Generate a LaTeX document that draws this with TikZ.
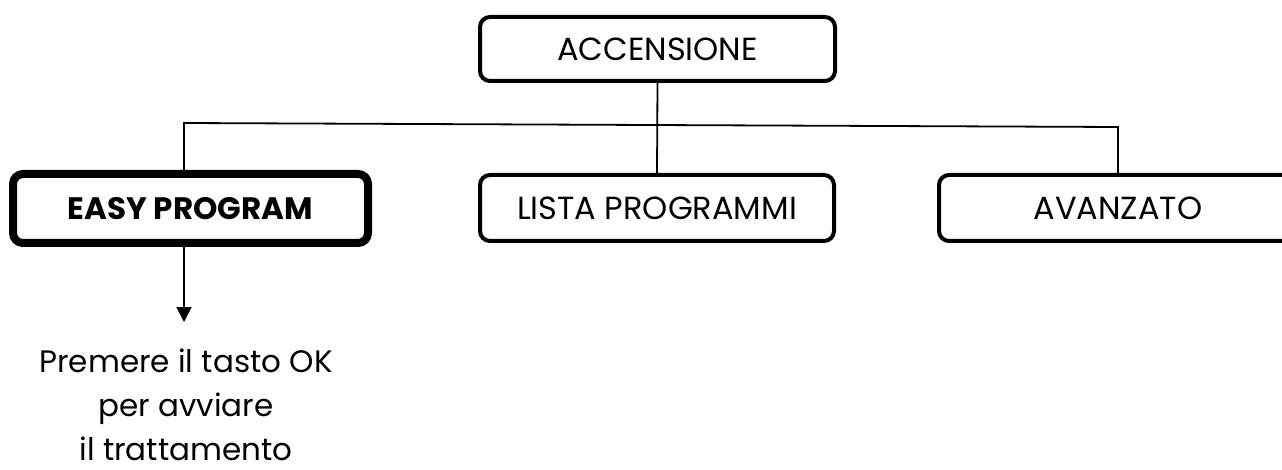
\documentclass[tikz,border=0pt]{standalone}
\usepackage{fontspec}
\setmainfont{Poppins}
\usetikzlibrary{arrows.meta}
\begin{document}
\begin{tikzpicture}[x=1pt,y=-1pt,
  box/.style={draw=black,line width=4pt,rounded corners=10pt,inner sep=0pt,
    minimum width=355pt,minimum height=66pt,font=\fontsize{32}{38}\selectfont},
  easybox/.style={box,line width=8pt,minimum height=69pt,font=\fontsize{31}{38}\selectfont\bfseries},
  conn/.style={draw=black,line width=1.8pt},
  note/.style={align=center,inner sep=0pt,font=\fontsize{31}{44}\selectfont}]
\useasboundingbox (0,0) rectangle (1282,470);
\node[box,minimum height=64pt] (acc) at (657.5,49) {ACCENSIONE};
\node[easybox] (easy) at (190.5,208.5) {EASY PROGRAM};
\node[box,minimum width=354pt] (lista) at (657,208) {LISTA PROGRAMMI};
\node[box,minimum width=358pt] (avz) at (1118,208) {AVANZATO};
\coordinate (jl) at (184,123);
\coordinate (jr) at (1118,127);
\coordinate (tip) at (184,322);
\node[note,anchor=north] (txt) at (186,349) {Premere il tasto OK\\per avviare\\il trattamento};
\draw[conn] (acc.south) -- (lista.north);
\draw[conn] (easy.north -| jl) -- (jl) -- (jr) -- (avz.north);
\draw[conn,-{Triangle[length=15pt,width=15pt]}] (easy.south -| tip) -- (tip);
\end{tikzpicture}
\end{document}
